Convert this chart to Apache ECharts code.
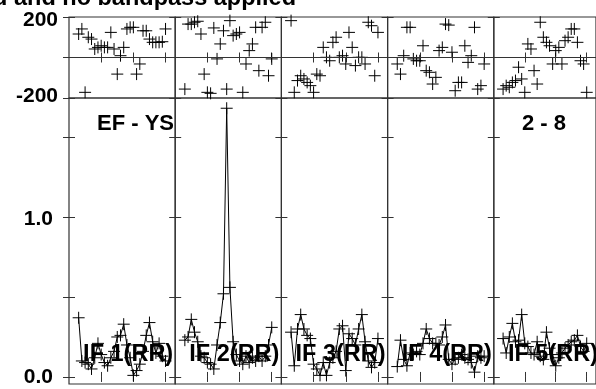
<!DOCTYPE html>
<html><head><meta charset="utf-8">
<script src="https://cdn.jsdelivr.net/npm/echarts@6/dist/echarts.min.js"></script>
<style>html,body{margin:0;padding:0;background:#fff}#c{width:596px;height:389px}</style>
</head><body><div id="c"></div>
<script>
// ---------------- data ----------------
const CHANNELS = [3,4,5,6,7,8,9,10,11,12,13,14,15,16,17,18,19,20,21,22,23,24,25,26,27,28,29,30];

const PHASE_IF1 = [116,141,-172,100,91,42,50,58,50,50,124,42,-82,9,50,141,149,149,-82,-32,132,132,91,75,75,75,78,141];
const PHASE_IF2 = [-156,165,165,174,179,116,-82,-172,-177,146,-7,67,132,-156,182,108,116,124,-172,-32,34,67,149,-65,149,174,-90,-7];
const PHASE_IF3 = [182,-172,-114,-90,-106,-123,-139,-172,-82,-90,50,1,-16,75,100,1,9,-32,124,50,-40,1,1,-32,174,157,-90,124];
const PHASE_IF4 = [-32,-82,9,149,149,-7,-16,-16,58,-65,-73,-131,-98,34,50,165,160,26,-164,-123,-123,58,-24,9,149,-156,-139,-32];
const PHASE_IF5 = [-156,-139,-147,-123,-114,-48,-106,-172,67,42,-65,-131,174,100,75,58,-32,34,50,-32,83,100,141,141,75,-16,-32,-172];

const AMP_IF1 = [0.37,0.10,0.09,0.08,0.05,0.12,0.21,0.14,0.09,0.07,0.12,0.16,0.25,0.26,0.33,0.20,0.12,0.01,0.04,0.08,0.16,0.26,0.34,0.22,0.15,0.21,0.13,0.10];
const AMP_IF2 = [0.23,0.25,0.36,0.28,0.22,0.13,0.12,0.09,0.08,0.05,0.20,0.34,0.52,1.68,0.56,0.22,0.14,0.10,0.08,0.13,0.09,0.12,0.10,0.13,0.10,0.13,0.20,0.31];
const AMP_IF3 = [0.28,0.07,0.30,0.39,0.30,0.26,0.24,0.08,0.05,0.01,0.09,0.01,0.09,0.12,0.16,0.30,0.32,0.04,0.27,0.24,0.20,0.30,0.39,0.22,0.10,0.06,0.09,0.24];
const AMP_IF4 = [0.065,0.23,0.11,0.07,0.15,0.14,0.16,0.14,0.21,0.30,0.24,0.21,0.21,0.20,0.25,0.325,0.11,0.08,0.11,0.12,0.14,0.12,0.11,0.09,0.03,0.13,0.12,0.13];
const AMP_IF5 = [0.24,0.15,0.25,0.335,0.22,0.23,0.39,0.21,0.19,0.15,0.14,0.22,0.13,0.11,0.28,0.18,0.14,0.07,0.12,0.15,0.18,0.20,0.22,0.23,0.26,0.19,0.16,0.21];

const PANEL_LABELS = ['IF 1(RR)','IF 2(RR)','IF 3(RR)','IF 4(RR)','IF 5(RR)'];
const TITLE_TEXT = 'd and no bandpass applied';
const SOURCE_TEXT = 'EF - YS';
const STOKES_TEXT = '2 - 8';

const PHASE_LABEL_TICKS = [-200, 200];
const PHASE_TICKS = [-200, 0, 200];
const AMP_TICKS = [0, 0.5, 1.0, 1.5];
const AMP_LABEL_TICKS = [0, 1.0];
const CH_TICKS = [10, 20, 30];

// ---------------- layout ----------------
const PHASES = [PHASE_IF1, PHASE_IF2, PHASE_IF3, PHASE_IF4, PHASE_IF5];
const AMPS = [AMP_IF1, AMP_IF2, AMP_IF3, AMP_IF4, AMP_IF5];
const FONT = '"Liberation Sans", Arial, Helvetica, sans-serif';
const LEFT0 = 69, PW = 106.2;
const PH_TOP = 17, PH_H = 81;
const AM_TOP = 98, AM_H = 286;
const LINEC = '#333';

const grids = [], xAxes = [], yAxes = [], series = [];
const pairs = (ys) => CHANNELS.map((c, i) => [c, ys[i]]);
const plusSym = 'path://M5,0L5,10M0,5L10,5';
const labStyle = { fontFamily: FONT, fontWeight: 'bold', fontSize: 21, color: '#000' };

for (let row = 0; row < 2; row++) {
  for (let col = 0; col < 5; col++) {
    const g = row * 5 + col;
    grids.push({
      left: LEFT0 + col * PW, width: PW,
      top: row === 0 ? PH_TOP : AM_TOP, height: row === 0 ? PH_H : AM_H,
      show: true, borderColor: LINEC, borderWidth: 1.2, backgroundColor: 'transparent'
    });
    ['bottom', 'top'].forEach(pos => {
      xAxes.push({
        type: 'value', gridIndex: g, position: pos, min: 0, max: 33,
        axisLine: { show: false },
        axisTick: { show: true, inside: true, length: 5, customValues: CH_TICKS, lineStyle: { color: LINEC, width: 1 } },
        axisLabel: { show: false }, splitLine: { show: false }
      });
    });
    const isPh = row === 0;
    ['left', 'right'].forEach(pos => {
      yAxes.push({
        type: 'value', gridIndex: g, position: pos,
        min: isPh ? -200 : -0.044, max: isPh ? 200 : 1.744,
        axisLine: { show: false },
        axisTick: { show: true, inside: true, length: 6, customValues: isPh ? PHASE_TICKS : AMP_TICKS, lineStyle: { color: LINEC, width: 1 } },
        axisLabel: {
          show: pos === 'left' && col === 0,
          customValues: isPh ? PHASE_LABEL_TICKS : AMP_LABEL_TICKS,
          margin: isPh ? 11 : 16,
          formatter: v => {
            if (isPh) return v > 0 ? '{dn|' + v + '}' : '{up|' + v + '}';
            return v > 0.5 ? '{dn2|' + v.toFixed(1) + '}' : '{n|' + v.toFixed(1) + '}';
          },
          rich: {
            dn: Object.assign({ padding: [6, 0, 0, 0] }, labStyle),
            up: Object.assign({ padding: [0, 0, 4, 0] }, labStyle),
            dn2: Object.assign({ padding: [4, 0, 0, 0] }, labStyle),
            n: Object.assign({}, labStyle)
          },
          fontFamily: FONT, fontWeight: 'bold', fontSize: 21, color: '#000'
        },
        splitLine: { show: false }
      });
    });
  }
}

for (let col = 0; col < 5; col++) {
  series.push({
    type: 'scatter', xAxisIndex: 2 * col, yAxisIndex: 2 * col,
    data: pairs(PHASES[col]), symbol: plusSym, symbolSize: 12, clip: false,
    itemStyle: { color: 'transparent', borderColor: '#000', borderWidth: 1, opacity: 1 },
    markLine: {
      silent: true, symbol: 'none', label: { show: false },
      lineStyle: { color: LINEC, width: 1.2, type: 'solid' },
      data: [{ yAxis: 0 }]
    }
  });
  const g = 5 + col;
  series.push({
    type: 'line', xAxisIndex: 2 * g, yAxisIndex: 2 * g,
    data: pairs(AMPS[col]), symbol: plusSym, symbolSize: 12, showAllSymbol: true, clip: false,
    lineStyle: { color: '#000', width: 1 },
    itemStyle: { color: 'transparent', borderColor: '#000', borderWidth: 1 }
  });
}

const texts = [
  { type: 'text', x: 296, y: -1, z: 100, style: { text: TITLE_TEXT, font: 'bold 23.5px ' + FONT, fill: '#000', align: 'right', verticalAlign: 'middle' } },
  { type: 'text', x: 174, y: 124, z: 100, style: { text: SOURCE_TEXT, font: 'bold 22px ' + FONT, fill: '#000', align: 'right', verticalAlign: 'middle' } },
  { type: 'text', x: 566, y: 124, z: 100, style: { text: STOKES_TEXT, font: 'bold 22px ' + FONT, fill: '#000', align: 'right', verticalAlign: 'middle' } }
];
PANEL_LABELS.forEach((t, col) => {
  texts.push({ type: 'text', x: LEFT0 + (col + 1) * PW - 2, y: 355, z: 100,
    style: { text: t, font: 'bold 23.5px ' + FONT, fill: '#000', align: 'right', verticalAlign: 'middle' } });
});

const chart = echarts.init(document.getElementById('c'), null, { renderer: 'canvas' });
chart.setOption({
  animation: false,
  backgroundColor: '#fff',
  grid: grids, xAxis: xAxes, yAxis: yAxes, series: series,
  graphic: texts
});
</script></body></html>
